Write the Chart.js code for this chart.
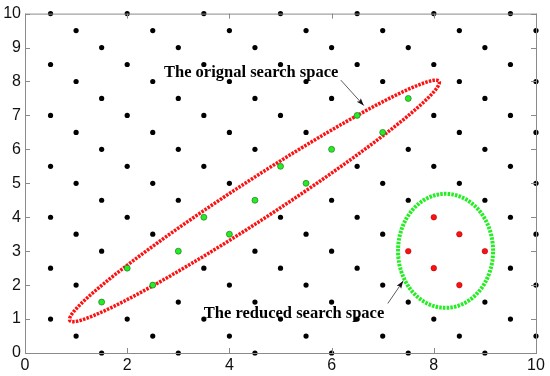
<!DOCTYPE html>
<html>
<head>
<meta charset="utf-8">
<script src="https://cdn.jsdelivr.net/npm/chart.js@4.4.1/dist/chart.umd.min.js"></script>
<style>
  html, body { margin: 0; padding: 0; background: #fff; }
  #wrap { width: 550px; height: 376px; }
</style>
</head>
<body>
<div id="wrap"><canvas id="chart"></canvas></div>
<script>
// Lattice rows: each group of rows shares the same x positions
const rowXsA = [0.5, 2, 3.5, 5, 6.5, 8, 9.5];
const rowYsA = [10, 8.5, 7, 5.5, 4, 2.5, 1];
const rowXsB = [1, 2.5, 4, 5.5, 7, 8.5, 10];
const rowYsB = [9.5, 8, 6.5, 5, 3.5, 2, 0.5];
const rowXsC = [1.5, 3, 4.5, 6, 7.5, 9];
const rowYsC = [9, 7.5, 6, 4.5, 3, 1.5, 0];

// Points inside the original (red) search space
const greenX = [1.5, 2, 2.5, 3, 3.5, 4, 4.5, 5, 5.5, 6, 6.5, 7, 7.5];
const greenY = [1.5, 2.5, 2, 3, 4, 3.5, 4.5, 5.5, 5, 6, 7, 6.5, 7.5];

// Points inside the reduced (green) search space
const redX = [8, 8.5, 7.5, 9, 8, 8.5];
const redY = [4, 3.5, 3, 3, 2.5, 2];

// Ellipses: centre, semi-axes, rotation (degrees)
const bigEllipse = [4.49, 4.48, 5.05, 0.5, 44.5];
const smallEllipse = [8.23, 3.01, 0.93, 1.68, 0];

// Annotations
const labelTexts = ['The orignal search space', 'The reduced search space'];
const labelPos = [[2.72, 8.13], [3.5, 1.02]];
const arrowFrom = [[6.18, 8.04], [7.1, 1.46]];
const arrowTo = [[6.63, 7.29], [7.4, 2.12]];

const xTicks = [0, 2, 4, 6, 8, 10];
const yTicks = [0, 1, 2, 3, 4, 5, 6, 7, 8, 9, 10];

function key(x, y) { return x + ',' + y; }
const taken = new Set();
greenX.forEach((x, i) => taken.add(key(x, greenY[i])));
redX.forEach((x, i) => taken.add(key(x, redY[i])));

const lattice = [];
[[rowXsA, rowYsA], [rowXsB, rowYsB], [rowXsC, rowYsC]].forEach(([xs, ys]) => {
    ys.forEach(y => xs.forEach(x => {
        if (!taken.has(key(x, y))) lattice.push({ x: x, y: y });
    }));
});

function ellipsePoints(e) {
    const [cx, cy, a, b, deg] = e;
    const th = deg * Math.PI / 180;
    const pts = [];
    for (let i = 0; i <= 180; i++) {
        const t = i / 180 * 2 * Math.PI;
        pts.push({
            x: cx + a * Math.cos(t) * Math.cos(th) - b * Math.sin(t) * Math.sin(th),
            y: cy + a * Math.cos(t) * Math.sin(th) + b * Math.sin(t) * Math.cos(th)
        });
    }
    return pts;
}

// Box, inward ticks and annotations (MATLAB look)
const framePlugin = {
    id: 'frame',
    afterDatasetsDraw(chart) {
        const ctx = chart.ctx;
        const a = chart.chartArea;
        const xs = chart.scales.x, ys = chart.scales.y;
        ctx.save();
        ctx.strokeStyle = '#8a8a8a';
        ctx.lineWidth = 1;
        ctx.strokeRect(a.left + 0.5, a.top + 0.5, a.right - a.left, a.bottom - a.top);
        ctx.beginPath();
        xTicks.forEach(v => {
            const px = Math.round(xs.getPixelForValue(v)) + 0.5;
            ctx.moveTo(px, a.bottom); ctx.lineTo(px, a.bottom - 5);
            ctx.moveTo(px, a.top); ctx.lineTo(px, a.top + 5);
        });
        yTicks.forEach(v => {
            const py = Math.round(ys.getPixelForValue(v)) + 0.5;
            ctx.moveTo(a.left, py); ctx.lineTo(a.left + 5, py);
            ctx.moveTo(a.right, py); ctx.lineTo(a.right - 5, py);
        });
        ctx.stroke();

        ctx.fillStyle = '#000';
        ctx.font = 'bold 16.5px "Liberation Serif", "Times New Roman", serif';
        ctx.textBaseline = 'alphabetic';
        ctx.textAlign = 'left';
        labelTexts.forEach((t, i) => {
            ctx.fillText(t, xs.getPixelForValue(labelPos[i][0]), ys.getPixelForValue(labelPos[i][1]));
        });

        ctx.strokeStyle = '#333';
        ctx.fillStyle = '#111';
        ctx.lineWidth = 0.8;
        arrowFrom.forEach((f, i) => {
            const x1 = xs.getPixelForValue(f[0]), y1 = ys.getPixelForValue(f[1]);
            const x2 = xs.getPixelForValue(arrowTo[i][0]), y2 = ys.getPixelForValue(arrowTo[i][1]);
            const ang = Math.atan2(y2 - y1, x2 - x1);
            ctx.beginPath();
            ctx.moveTo(x1, y1); ctx.lineTo(x2, y2);
            ctx.stroke();
            ctx.beginPath();
            ctx.moveTo(x2, y2);
            ctx.lineTo(x2 - 8 * Math.cos(ang - 0.35), y2 - 8 * Math.sin(ang - 0.35));
            ctx.lineTo(x2 - 6 * Math.cos(ang), y2 - 6 * Math.sin(ang));
            ctx.lineTo(x2 - 8 * Math.cos(ang + 0.35), y2 - 8 * Math.sin(ang + 0.35));
            ctx.closePath();
            ctx.fill();
        });
        ctx.restore();
    }
};

const ctx = document.getElementById('chart').getContext('2d');
new Chart(ctx, {
    type: 'scatter',
    data: {
        datasets: [
            {
                label: 'lattice',
                data: lattice,
                backgroundColor: '#000',
                borderWidth: 0,
                pointRadius: 2.6,
                clip: false,
                order: 4
            },
            {
                label: 'original space',
                data: ellipsePoints(bigEllipse),
                showLine: true,
                borderColor: '#ff1010',
                borderWidth: 3.5,
                borderDash: [2.5, 1.2],
                pointRadius: 0,
                tension: 0,
                order: 3
            },
            {
                label: 'reduced space',
                data: ellipsePoints(smallEllipse),
                showLine: true,
                borderColor: '#22ee22',
                borderWidth: 4,
                borderDash: [2.5, 1.2],
                pointRadius: 0,
                tension: 0,
                order: 3
            },
            {
                label: 'green points',
                data: greenX.map((x, i) => ({ x: x, y: greenY[i] })),
                backgroundColor: '#22ee22',
                borderColor: '#1f5f1f',
                borderWidth: 0.6,
                pointRadius: 3,
                order: 1
            },
            {
                label: 'red points',
                data: redX.map((x, i) => ({ x: x, y: redY[i] })),
                backgroundColor: '#ff1010',
                borderColor: '#900',
                borderWidth: 0.5,
                pointRadius: 2.8,
                order: 1
            }
        ]
    },
    options: {
        responsive: true,
        maintainAspectRatio: false,
        animation: false,
        events: [],
        layout: { padding: { top: 10, right: 14, left: 0, bottom: 0 } },
        plugins: {
            legend: { display: false },
            tooltip: { enabled: false }
        },
        scales: {
            x: {
                type: 'linear',
                min: 0,
                max: 10,
                afterFit: s => { s.height = 23; },
                afterBuildTicks: s => { s.ticks = xTicks.map(v => ({ value: v })); },
                grid: { display: false, drawTicks: false },
                border: { display: false },
                ticks: {
                    padding: 3,
                    color: '#111',
                    font: { family: 'Arial, "Liberation Sans", sans-serif', size: 16 }
                }
            },
            y: {
                type: 'linear',
                min: 0,
                max: 10,
                afterFit: s => { s.width = 25; },
                afterBuildTicks: s => { s.ticks = yTicks.map(v => ({ value: v })); },
                grid: { display: false, drawTicks: false },
                border: { display: false },
                ticks: {
                    padding: 4,
                    color: '#111',
                    font: { family: 'Arial, "Liberation Sans", sans-serif', size: 16 }
                }
            }
        }
    },
    plugins: [framePlugin]
});
</script>
</body>
</html>
